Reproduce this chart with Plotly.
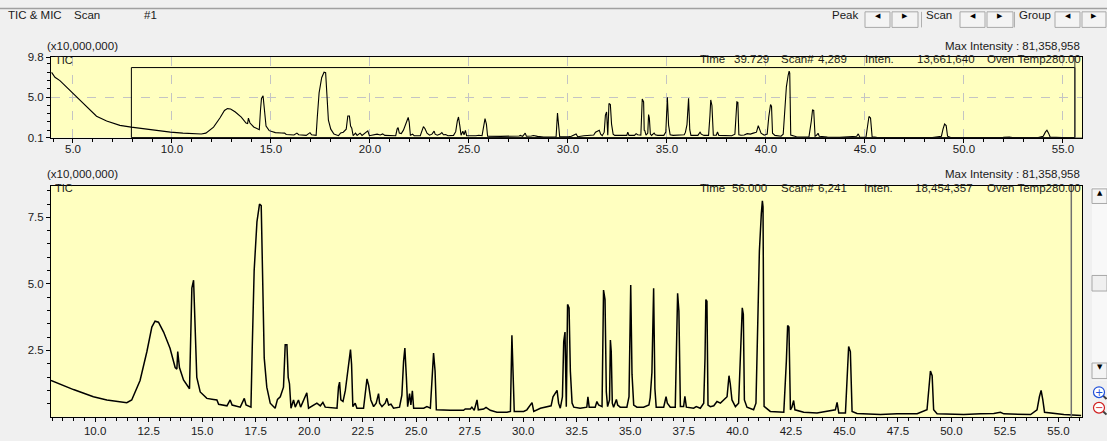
import plotly.graph_objects as go

# ---------------- data (retention time in min, TIC intensity in x10,000,000) ----------------
rt_min = [
    3.92, 4.09, 4.34, 4.68, 5.19, 5.69, 6.19, 6.70, 7.37, 7.94,
    8.99, 9.92, 10.55, 11.48, 11.71, 12.10, 12.42, 12.65, 12.80, 12.96,
    13.20, 13.50, 13.74, 13.82, 13.86, 13.94, 14.13, 14.41, 14.47, 14.52,
    14.60, 14.64, 14.75, 14.91, 15.22, 15.53, 15.69, 15.77, 16.16, 16.31,
    16.40, 16.78, 16.97, 17.05, 17.28, 17.34, 17.43, 17.56, 17.68, 17.76,
    17.81, 17.90, 18.02, 18.18, 18.41, 18.52, 18.65, 18.80, 18.88, 18.96,
    19.02, 19.08, 19.15, 19.27, 19.35, 19.50, 19.60, 19.89, 19.97, 20.20,
    20.36, 20.52, 20.64, 20.75, 21.30, 21.37, 21.42, 21.48, 21.58, 21.69,
    21.79, 21.89, 21.93, 21.98, 22.04, 22.15, 22.23, 22.54, 22.62, 22.70,
    22.78, 22.88, 23.01, 23.13, 23.24, 23.29, 23.40, 23.55, 23.63, 23.71,
    23.82, 23.94, 24.22, 24.33, 24.41, 24.47, 24.54, 24.60, 24.69, 24.75,
    24.82, 24.88, 25.35, 25.50, 25.66, 25.81, 25.88, 25.94, 26.59, 27.21,
    27.29, 27.53, 27.60, 27.71, 27.84, 27.90, 28.15, 28.26, 28.46, 28.77,
    29.24, 29.40, 29.47, 29.54, 29.58, 30.02, 30.17, 30.41, 30.49, 30.80,
    31.11, 31.30, 31.39, 31.51, 31.58, 31.65, 31.73, 31.83, 31.89, 31.95,
    32.01, 32.07, 32.14, 32.20, 32.28, 32.36, 32.66, 32.97, 33.02, 33.08,
    33.36, 33.44, 33.52, 33.68, 33.75, 33.82, 33.85, 33.88, 33.94, 34.03,
    34.07, 34.11, 34.16, 34.22, 34.35, 34.41, 34.53, 34.84, 34.94, 35.02,
    35.08, 35.16, 35.31, 35.62, 35.87, 35.93, 36.01, 36.09, 36.15, 36.21,
    36.56, 36.67, 36.73, 36.87, 37.10, 37.17, 37.21, 37.27, 37.34, 37.49,
    37.55, 37.62, 37.96, 38.08, 38.27, 38.43, 38.49, 38.53, 38.58, 38.63,
    38.74, 38.90, 39.05, 39.21, 39.36, 39.52, 39.61, 39.67, 39.75, 39.91,
    40.06, 40.14, 40.23, 40.28, 40.33, 40.45, 40.61, 40.76, 40.87, 40.95,
    41.03, 41.12, 41.17, 41.20, 41.25, 41.54, 42.17, 42.29, 42.35, 42.41,
    42.48, 42.55, 42.63, 42.69, 43.10, 43.72, 44.58, 44.66, 44.74, 45.05,
    45.13, 45.20, 45.28, 45.36, 45.59, 46.68, 47.46, 48.40, 48.86, 48.94,
    49.02, 49.10, 49.17, 49.33, 50.58, 51.36, 51.98, 52.29, 52.45, 53.70,
    54.00, 54.11, 54.19, 54.27, 54.35, 55.25, 55.87, 56.06,
]
tic_1e7 = [
    7.97, 7.38, 6.98, 6.20, 4.95, 3.78, 2.68, 2.10, 1.58, 1.37,
    1.03, 0.76, 0.64, 0.54, 0.64, 1.37, 2.46, 3.38, 3.60, 3.56,
    3.19, 2.58, 1.86, 1.80, 2.46, 1.86, 1.39, 1.06, 3.44, 4.84,
    5.14, 4.17, 1.49, 0.94, 0.70, 0.66, 0.64, 0.48, 0.42, 0.64,
    0.45, 0.37, 0.70, 0.45, 0.37, 2.58, 5.50, 7.33, 8.00, 7.94,
    5.38, 2.22, 1.12, 0.52, 0.33, 0.66, 0.76, 1.12, 2.71, 2.71,
    1.49, 1.25, 0.33, 0.64, 0.37, 0.64, 0.37, 0.91, 0.33, 0.45,
    0.52, 0.42, 0.55, 0.37, 0.33, 1.13, 1.31, 0.64, 0.58, 1.00,
    1.73, 2.22, 2.53, 1.98, 0.39, 0.52, 0.33, 0.33, 0.88, 1.43,
    1.18, 0.64, 0.39, 0.52, 0.88, 0.52, 0.39, 0.52, 0.70, 0.45,
    0.48, 0.33, 0.37, 0.82, 2.10, 2.59, 1.49, 0.39, 0.88, 0.45,
    0.98, 0.33, 0.33, 0.39, 0.33, 2.40, 1.73, 0.27, 0.25, 0.25,
    0.30, 0.30, 0.37, 0.25, 0.64, 0.27, 0.30, 0.36, 0.25, 0.18,
    0.18, 0.21, 3.07, 1.25, 0.21, 0.21, 0.27, 0.54, 0.21, 0.33,
    0.37, 0.42, 0.76, 0.94, 1.00, 0.52, 0.33, 0.76, 2.83, 3.19,
    0.39, 4.23, 4.10, 1.73, 0.52, 0.37, 0.33, 0.37, 0.76, 0.37,
    0.37, 0.58, 0.45, 0.39, 4.77, 4.41, 1.00, 0.94, 0.39, 0.64,
    2.89, 2.46, 0.52, 0.37, 0.66, 0.45, 0.37, 0.37, 0.76, 4.96,
    1.61, 0.45, 0.37, 0.37, 0.45, 0.73, 1.67, 4.84, 1.06, 0.37,
    0.37, 0.76, 0.52, 0.37, 0.37, 2.77, 4.65, 3.98, 0.39, 0.39,
    0.78, 0.37, 0.33, 0.39, 0.33, 0.52, 2.22, 4.41, 4.35, 0.45,
    0.39, 0.42, 0.58, 0.52, 0.64, 0.76, 1.55, 1.25, 0.64, 0.39,
    0.52, 2.59, 4.10, 3.86, 0.64, 0.37, 0.33, 0.27, 0.52, 3.98,
    6.23, 7.63, 8.12, 7.90, 0.40, 0.21, 0.18, 2.10, 3.44, 3.38,
    0.27, 0.37, 0.62, 0.27, 0.18, 0.15, 0.27, 0.55, 0.15, 0.15,
    1.25, 2.65, 2.46, 0.21, 0.13, 0.09, 0.12, 0.12, 0.27, 1.12,
    1.73, 1.55, 0.27, 0.12, 0.09, 0.12, 0.13, 0.18, 0.12, 0.09,
    0.27, 0.76, 1.00, 0.64, 0.18, 0.09, 0.07, 0.06,
]

top_x_range = [3.89, 55.96]
top_y_range = [0.1, 9.8]
top_y_ticks = [0.1, 5.0, 9.8]
low_x_range = [7.94, 56.1]
low_y_range = [0.007, 8.68]
low_y_ticks = [2.5, 5.0, 7.5]
zoom_window = [7.95, 55.6]
cursor_time = 55.6

top_header = [("Time", 698), ("39.729", 732), ("Scan#", 779), ("4,289", 816),
              ("Inten.", 863), ("13,661,640", 915), ("Oven Temp280.00", 985)]
low_header = [("Time", 698), ("56.000", 730), ("Scan#", 779), ("6,241", 816),
              ("Inten.", 862), ("18,454,357", 913), ("Oven Temp280.00", 985)]
max_intensity_text = "Max Intensity : 81,358,958"
scale_text = "(x10,000,000)"

# ---------------- layout helpers (pixel -> paper) ----------------
W, H = 1107, 441
def px(x):
    return x / W
def py(y):
    return 1 - y / H

FONT = "Liberation Sans, Arial, sans-serif"
TXT = "#1a1a1a"
PLOT_BG = "#FFFFC0"
PAGE_BG = "#F0F0F0"

L, R = 51, 1082
TOP_T, TOP_B = 52.7, 135.3
LOW_T, LOW_B = 185, 422.3

fig = go.Figure()
fig.add_trace(go.Scatter(x=rt_min, y=tic_1e7, mode="lines",
                         line=dict(color="#000000", width=1.1),
                         xaxis="x", yaxis="y", hoverinfo="skip", showlegend=False))
fig.add_trace(go.Scatter(x=rt_min, y=tic_1e7, mode="lines",
                         line=dict(color="#000000", width=1.5),
                         xaxis="x2", yaxis="y2", hoverinfo="skip", showlegend=False))

axis_common = dict(showline=True, linecolor="#000000", linewidth=1, mirror=True,
                   ticks="outside", ticklen=4, tickcolor="#000000", zeroline=False,
                   tickfont=dict(family=FONT, size=11.5, color=TXT), fixedrange=True)

fig.update_layout(
    width=W, height=H, autosize=False,
    margin=dict(l=0, r=0, t=0, b=0),
    paper_bgcolor=PAGE_BG, plot_bgcolor=PLOT_BG,
    showlegend=False,
    xaxis=dict(domain=[px(L), px(R)], anchor="y", range=top_x_range,
               tickmode="linear", tick0=0, dtick=5, tickformat=".1f",
               ticklabelstandoff=-3,
               showgrid=True, gridcolor="#C4C4C4", griddash="dash", gridwidth=1,
               minor=dict(tickmode="linear", tick0=0, dtick=1, ticks="outside",
                          ticklen=3, tickcolor="#000000", showgrid=False),
               **axis_common),
    yaxis=dict(domain=[py(TOP_B), py(TOP_T)], anchor="x", range=top_y_range,
               tickmode="array", tickvals=top_y_ticks,
               ticktext=[f"{v:.1f}" for v in top_y_ticks],
               showgrid=True, gridcolor="#C4C4C4", griddash="dash", gridwidth=1,
               minor=dict(tickmode="linear", tick0=0, dtick=1, ticks="outside",
                          ticklen=3, tickcolor="#000000", showgrid=False),
               **axis_common),
    xaxis2=dict(domain=[px(L), px(R)], anchor="y2", range=low_x_range,
                tickmode="linear", tick0=0, dtick=2.5, tickformat=".1f",
                ticklabelstandoff=-1,
                showgrid=False,
                minor=dict(tickmode="linear", tick0=0, dtick=0.5, ticks="outside",
                           ticklen=3, tickcolor="#000000", showgrid=False),
                **axis_common),
    yaxis2=dict(domain=[py(LOW_B), py(LOW_T)], anchor="x2", range=low_y_range,
                tickmode="array", tickvals=low_y_ticks,
                ticktext=[f"{v:.1f}" for v in low_y_ticks],
                showgrid=False,
                minor=dict(tickmode="linear", tick0=0, dtick=0.5, ticks="outside",
                           ticklen=3, tickcolor="#000000", showgrid=False),
                **axis_common),
)

ann = []
def txt(x, y, s, anchor="left", size=11.5, color=TXT, family=FONT, yoff=-4):
    ann.append(dict(x=px(x), y=py(y + yoff), xref="paper", yref="paper", text=s,
                    showarrow=False, xanchor=anchor, yanchor="middle",
                    font=dict(family=family, size=size, color=color)))

# window title bar texts
txt(6, 13.5, "TIC & MIC")
txt(72, 13.5, "Scan")
txt(142, 13.5, "#1")
txt(830, 13.5, "Peak")
txt(924, 13.5, "Scan")
txt(1017, 13.5, "Group")

# panel labels
for ytop, yhdr, header in [(TOP_T, 58.5, top_header), (LOW_T, 191.5, low_header)]:
    txt(45, ytop - 8, scale_text)
    txt(R, ytop - 8, max_intensity_text, anchor="right")
    txt(53, ytop + 6.5, "TIC", size=11)
    for s, x in header:
        txt(x, yhdr, s)

shapes = []
# top gray rule
shapes.append(dict(type="line", xref="paper", yref="paper", x0=0, x1=1,
                   y0=py(2.5), y1=py(2.5), line=dict(color="#A0A0A0", width=1.5)))

# toolbar buttons
def button(x0, x1, y0, y1, glyph):
    shapes.append(dict(type="rect", xref="paper", yref="paper",
                       x0=px(x0), x1=px(x1), y0=py(y1), y1=py(y0),
                       fillcolor="#F4F4F4", line=dict(color="#A8A8A8", width=1)))
    txt((x0 + x1) / 2, (y0 + y1) / 2 + 0.5, glyph, anchor="center", size=7,
        color="#000000", family="DejaVu Sans")

for a, b in [(865, 890), (960, 985), (1055, 1080)]:
    button(a, b, 6, 22, "◀")
for a, b in [(892, 918), (987, 1013), (1082, 1106)]:
    button(a, b, 6, 22, "▶")
for xs in [921.5, 1014.5]:
    shapes.append(dict(type="line", xref="paper", yref="paper", x0=px(xs), x1=px(xs),
                       y0=py(22), y1=py(6), line=dict(color="#B0B0B0", width=1)))

# zoom window rectangle in overview panel
shapes.append(dict(type="rect", xref="x", yref="paper",
                   x0=zoom_window[0], x1=zoom_window[1], y0=py(TOP_B), y1=py(63.3),
                   line=dict(color="#000000", width=1)))
# cursor lines
shapes.append(dict(type="line", xref="x", yref="paper", x0=cursor_time, x1=cursor_time,
                   y0=py(TOP_B), y1=py(TOP_T), line=dict(color="#303030", width=1)))
shapes.append(dict(type="line", xref="x2", yref="paper", x0=cursor_time, x1=cursor_time,
                   y0=py(LOW_B), y1=py(LOW_T), line=dict(color="#707070", width=1.5)))

# scrollbar at right of lower panel
shapes.append(dict(type="rect", xref="paper", yref="paper", x0=px(1092), x1=px(1107),
                   y0=py(385), y1=py(186), fillcolor="#F8F8F8", line=dict(width=0)))
button(1092, 1107, 188, 203, "▲")
shapes.append(dict(type="rect", xref="paper", yref="paper", x0=px(1092), x1=px(1107),
                   y0=py(293), y1=py(277), fillcolor="#F0F0F0",
                   line=dict(color="#A8A8A8", width=1)))
button(1092, 1107, 367, 383, "▼")
# zoom in / out icons (magnifier: circle + handle + sign)
for cy, col, g in [(397, "#1E4FD8", "+"), (413, "#D02020", "−")]:
    shapes.append(dict(type="line", xref="paper", yref="paper",
                       x0=px(1103), x1=px(1106.5), y0=py(cy + 3.5), y1=py(cy + 7),
                       line=dict(color="#404040", width=2)))
    shapes.append(dict(type="circle", xref="paper", yref="paper",
                       x0=px(1093.5), x1=px(1104.5), y0=py(cy + 5.5), y1=py(cy - 5.5),
                       fillcolor="#FFFFFF", line=dict(color=col, width=1.2)))
    txt(1099, cy, g, anchor="center", size=10, color=col, family="DejaVu Sans", yoff=0)

fig.update_layout(annotations=ann, shapes=shapes)
fig.write_html("out.html")
